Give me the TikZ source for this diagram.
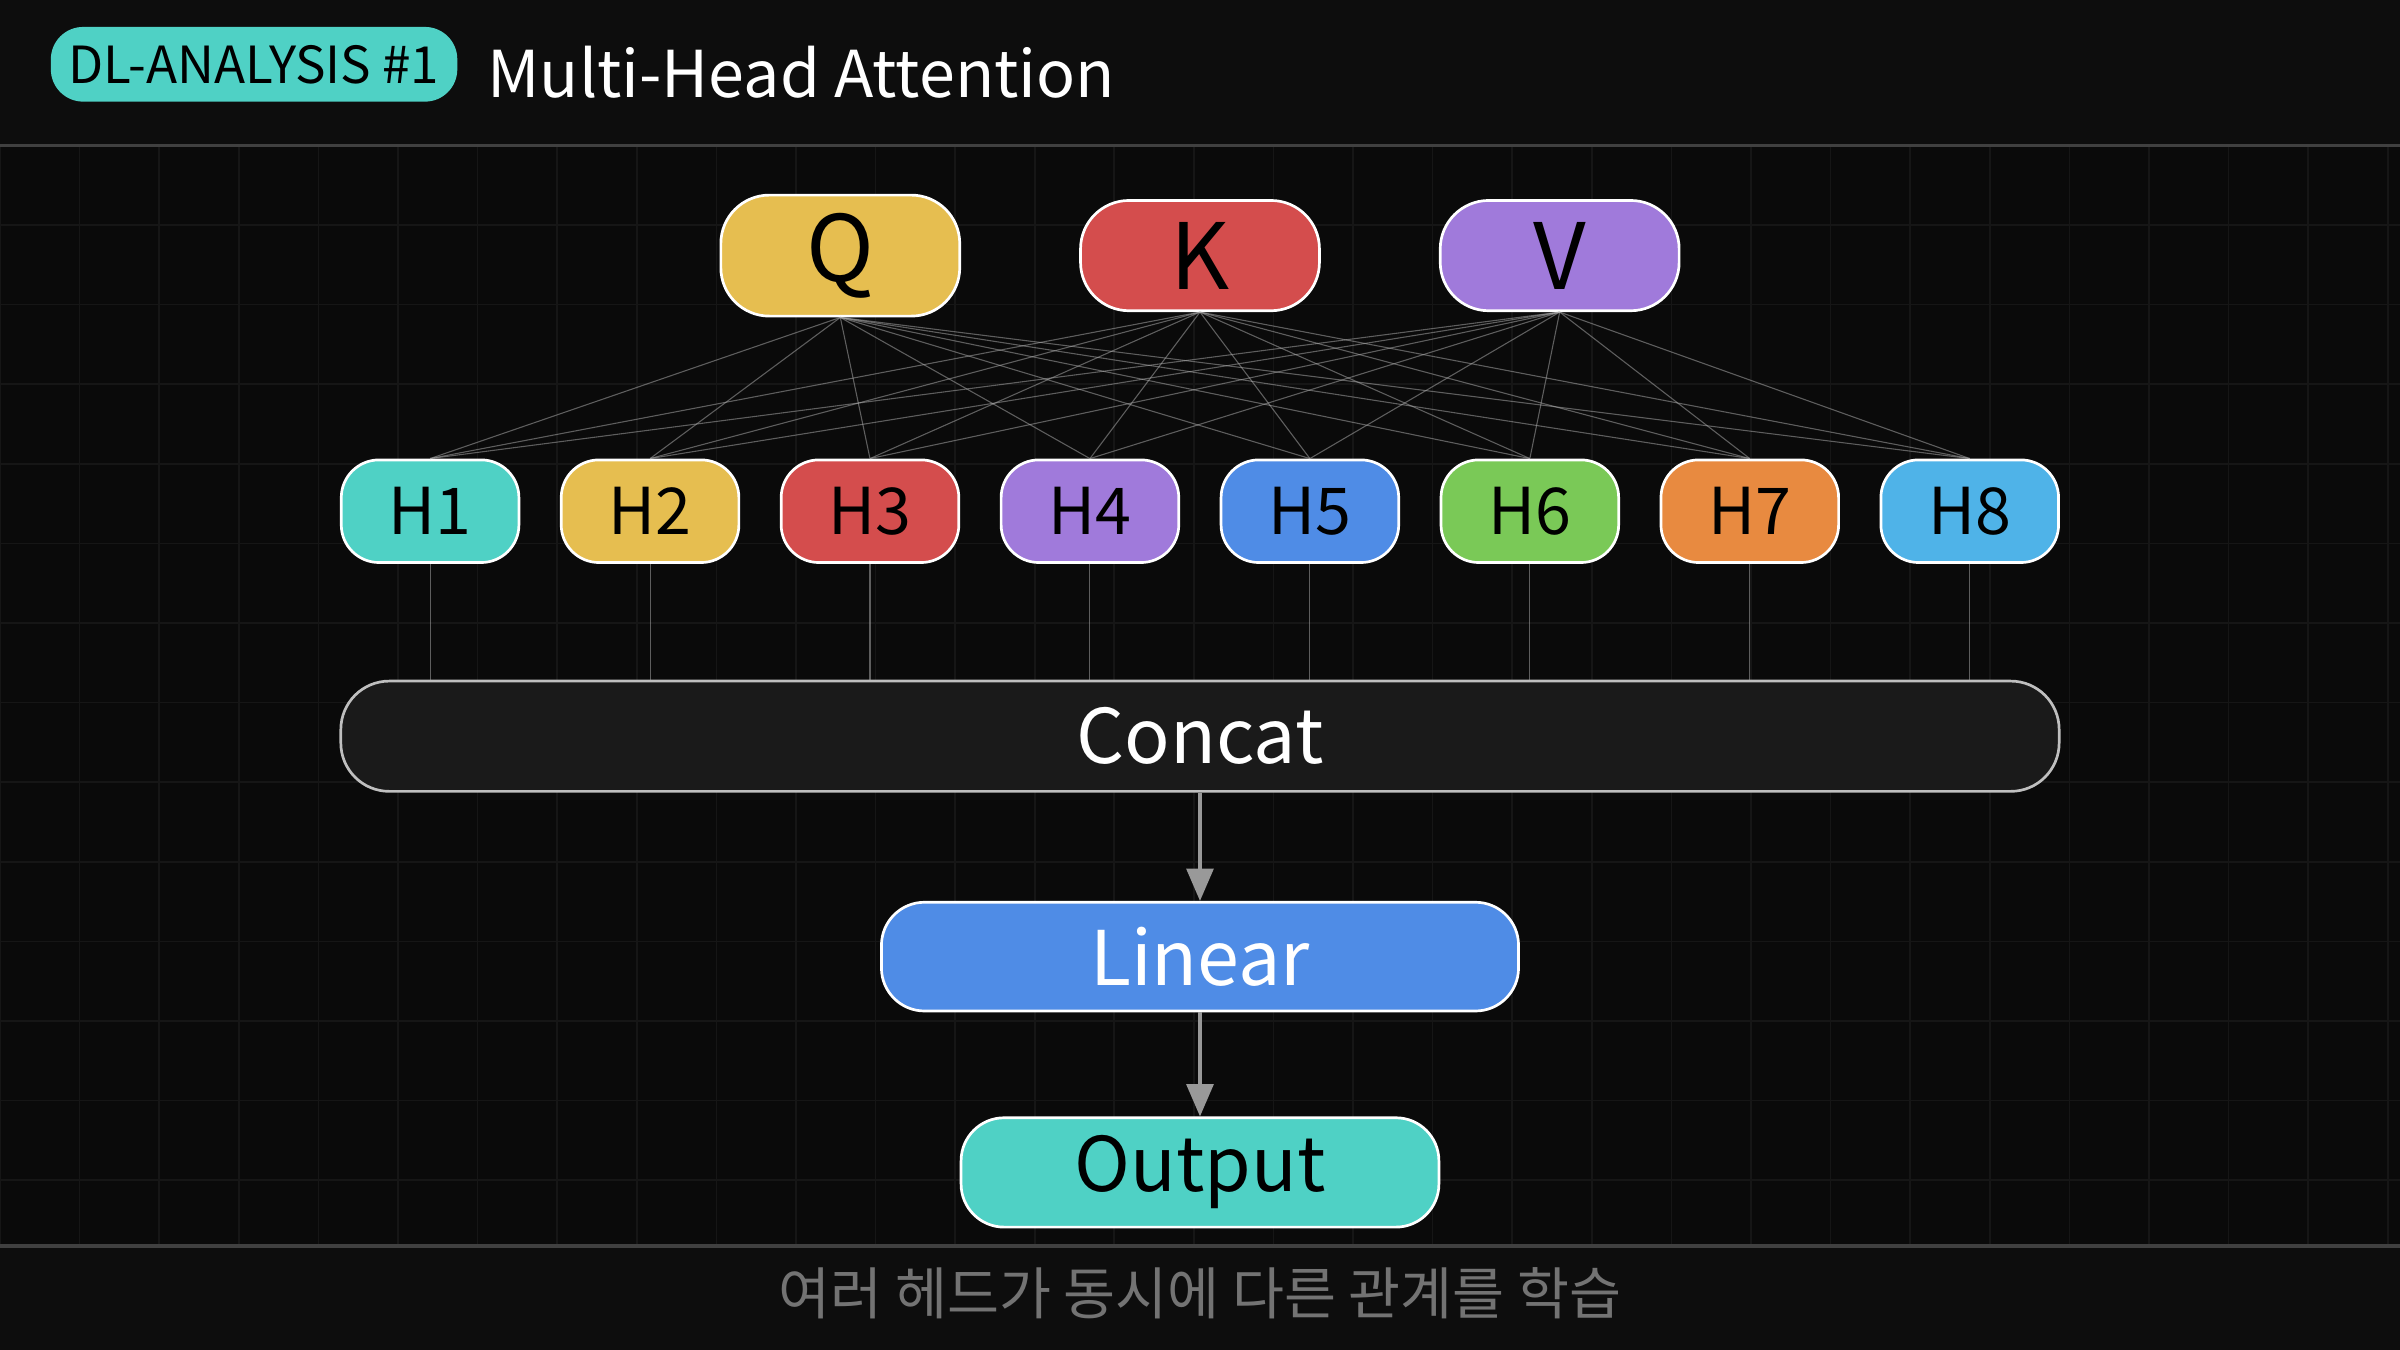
\documentclass[tikz,border=0pt]{standalone}
\usepackage{fontspec}
\setmainfont{Noto Sans CJK KR}
\usetikzlibrary{arrows.meta}
\definecolor{bgcol}{HTML}{0A0A0A}
\definecolor{gridcol}{HTML}{161616}
\definecolor{teal}{HTML}{4FD1C5}
\definecolor{yel}{HTML}{E6BE50}
\definecolor{rd}{HTML}{D44D4D}
\definecolor{pur}{HTML}{A07ADB}
\definecolor{blu}{HTML}{4F8CE6}
\definecolor{grn}{HTML}{7AC957}
\definecolor{org}{HTML}{E88A40}
\definecolor{sky}{HTML}{4FB3E8}
\definecolor{boxdark}{HTML}{1A1A1A}

\begin{document}
\begin{tikzpicture}[x=0.01cm,y=-0.01cm,
inbox/.style={draw=white, line width=0.5pt, rounded corners=9pt, minimum width=1.56cm, minimum height=0.72cm, text=black, font=\fontsize{17}{17}\selectfont},
headbox/.style={draw=white, line width=0.5pt, rounded corners=7pt, minimum width=1.16cm, minimum height=0.67cm, text=black, font=\fontsize{12}{12}\selectfont},
wire/.style={gray!60, line width=0.2pt, opacity=0.5},
flow/.style={gray!80, line width=0.6pt, -{Triangle[width=5pt,length=6pt]}}
]
\fill[bgcol] (0,0) rectangle (1568,882);
\useasboundingbox (0,0) rectangle (1568,882);
\fill[black!95!white] (0,0) rectangle (1568,95);
\fill[black!95!white] (0,814) rectangle (1568,882);
% grid
\foreach \gx in {0,52,...,1568} \draw[gridcol, line width=0.3pt] (\gx,95) -- (\gx,814);
\foreach \gy in {95,147,...,814} \draw[gridcol, line width=0.3pt] (0,\gy) -- (1568,\gy);
\draw[black!75!white, line width=0.6pt] (0,95) -- (1568,95);
\draw[black!75!white, line width=0.6pt] (0,814) -- (1568,814);

% header
\node[fill=teal, rounded corners=6pt, minimum width=2.27cm, minimum height=0.36cm, text=black, font=\fontsize{9.5}{9.5}\selectfont] (badge) at (166,42) {DL-ANALYSIS \#1};
\node[anchor=west, text=white, font=\fontsize{12}{12}\selectfont] (title) at (306,47) {Multi-Head Attention};

% inputs
\node[inbox, fill=yel] (Q) at (549,167) {Q};
\node[inbox, fill=rd] (K) at (784,167) {K};
\node[inbox, fill=pur] (V) at (1019,167) {V};

% heads
\foreach \i/\c [count=\n from 0] in {1/teal,2/yel,3/rd,4/pur,5/blu,6/grn,7/org,8/sky}
  \node[headbox, fill=\c] (H\i) at ({281+143.7*\n},334) {H\i};

\node[draw=white!75!black, line width=0.5pt, rounded corners=9pt, fill=boxdark, minimum width=11.22cm, minimum height=0.72cm, text=white, font=\fontsize{14}{14}\selectfont] (concat) at (784,481) {Concat};
\node[draw=white, line width=0.5pt, rounded corners=8pt, fill=blu, minimum width=4.16cm, minimum height=0.71cm, text=white, font=\fontsize{14}{14}\selectfont] (linear) at (784,625) {Linear};
\node[draw=white, line width=0.5pt, rounded corners=8pt, fill=teal, minimum width=3.12cm, minimum height=0.71cm, text=black, font=\fontsize{14}{14}\selectfont] (output) at (784,766) {Output};

\node[text=white!45!black, font=\fontsize{10.5}{10.5}\selectfont] (note) at (784,845) {여러 헤드가 동시에 다른 관계를 학습};

% wiring
\foreach \s in {Q,K,V}
  \foreach \i in {1,...,8}
    \draw[wire] (\s.south) -- (H\i.north);
\foreach \i in {1,...,8}
  \draw[wire] (H\i.south) -- (H\i.south |- concat.north);
\draw[flow] (concat) -- (linear);
\draw[flow] (linear) -- (output);
\end{tikzpicture}
\end{document}
